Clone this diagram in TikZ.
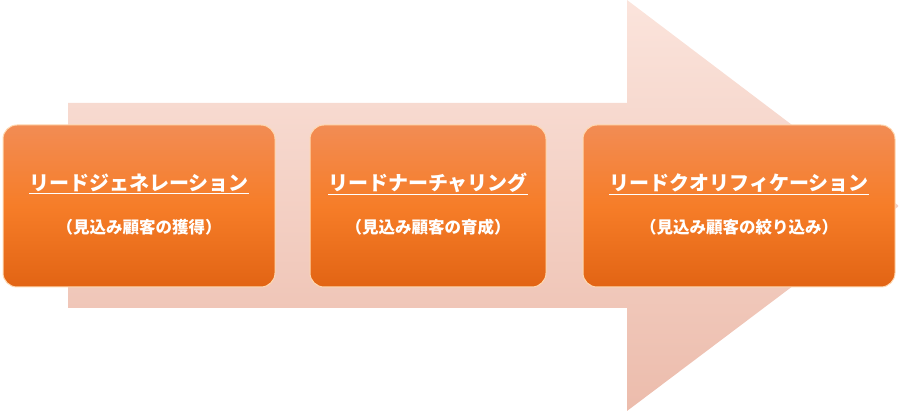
\documentclass[tikz,border=0pt]{standalone}
\usepackage{fontspec}
\newfontfamily\cjk{Noto Sans CJK JP}
\definecolor{atop}{RGB}{251,228,220}
\definecolor{abot}{RGB}{236,188,172}
\definecolor{btop}{RGB}{242,140,84}
\definecolor{bmid}{RGB}{246,125,40}
\definecolor{bbot}{RGB}{226,100,20}
\begin{document}
\begin{tikzpicture}[x=1pt,y=1pt,
  stage/.style={draw=white!70!orange,line width=1pt,rounded corners=14pt,top color=btop,bottom color=bbot,middle color=bmid,minimum height=162pt,inner sep=0pt},
  ttl/.style={text=white,font=\cjk\bfseries\fontsize{20}{24}\selectfont},
  sub/.style={text=white,font=\cjk\bfseries\fontsize{16.5}{20}\selectfont}]
\useasboundingbox (0,0) rectangle (899,411);
\shade[top color=atop,bottom color=abot]
  (68,308) -- (627,308) -- (627,411) -- (899,205) -- (627,0) -- (627,103) -- (68,103) -- cycle;
\node[stage,minimum width=272pt] (b1) at (139,205) {};
\node[stage,minimum width=236pt] (b2) at (428,205) {};
\node[stage,minimum width=312pt] (b3) at (739,205) {};
\foreach \n/\t/\s in {b1/リードジェネレーション/（見込み顧客の獲得）,b2/リードナーチャリング/（見込み顧客の育成）,b3/リードクオリフィケーション/（見込み顧客の絞り込み）}{
  \node[ttl] (\n t) at ([yshift=22pt]\n.center) {\underline{\t}};
  \node[sub] (\n s) at ([yshift=-21pt]\n.center) {\s};
}
\end{tikzpicture}
\end{document}
